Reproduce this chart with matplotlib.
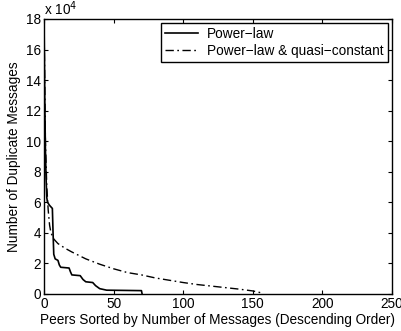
import matplotlib
matplotlib.use("Agg")
import matplotlib.pyplot as plt

# Data (y in units of 1e4 messages)
powerlaw_x = [0, 0.5, 1, 1.5, 2, 2.5, 4, 6, 6.5, 7, 8, 10, 11, 12, 18, 19, 20, 26, 28, 30, 35, 37, 40, 45, 70, 70.5]
powerlaw_y = [18, 13, 9.5, 7.5, 6.3, 6.0, 5.8, 5.6, 4.0, 2.6, 2.3, 2.2, 1.9, 1.75, 1.7, 1.45, 1.25, 1.2, 0.95, 0.8, 0.75, 0.55, 0.35, 0.25, 0.22, 0]

quasi_x = [0, 1, 2, 3, 4, 5, 7, 10, 15, 20, 30, 40, 50, 60, 70, 80, 90, 100, 110, 120, 130, 140, 150, 155, 157]
quasi_y = [18, 10, 7, 5.5, 4.5, 4.0, 3.6, 3.3, 3.0, 2.75, 2.3, 1.95, 1.65, 1.4, 1.25, 1.05, 0.9, 0.75, 0.62, 0.52, 0.42, 0.32, 0.2, 0.1, 0]

series_labels = ["Power\u2212law", "Power\u2212law & quasi\u2212constant"]
x_ticks = [0, 50, 100, 150, 200, 250]
y_ticks = [0, 2, 4, 6, 8, 10, 12, 14, 16, 18]

plt.rcParams['font.family'] = ['Liberation Sans', 'DejaVu Sans']
plt.rcParams['font.size'] = 9.8

fig = plt.figure(figsize=(4.02, 3.31), dpi=100)
ax = fig.add_axes([0.1095, 0.1118, 0.8655, 0.8308])

ax.plot(powerlaw_x, powerlaw_y, color='black', lw=1.2, linestyle='-', label=series_labels[0])
ax.plot(quasi_x, quasi_y, color='black', lw=1.0, linestyle=(0, (6, 2.5, 1.2, 2.5)), label=series_labels[1])

ax.set_xlim(0, 250)
ax.set_ylim(0, 18)
ax.set_xticks(x_ticks)
ax.set_yticks(y_ticks)
ax.tick_params(direction='in', top=True, right=True, length=3, width=0.8, labelsize=9.8, pad=2)
for s in ax.spines.values():
    s.set_linewidth(1.0)

ax.set_xlabel("Peers Sorted by Number of Messages (Descending Order)", fontsize=9.8, labelpad=1.5)
ax.set_ylabel("Number of Duplicate Messages", fontsize=9.8, labelpad=4)
ax.text(0.0, 1.005, "x 10$^4$", transform=ax.transAxes, fontsize=9.8, ha='left', va='bottom')

leg = ax.legend(loc='upper right', fontsize=9.8, frameon=True, fancybox=False,
                edgecolor='black', framealpha=1, borderaxespad=0.3, handlelength=2.4,
                borderpad=0.3, labelspacing=0.2, handletextpad=0.7)
leg.get_frame().set_linewidth(1.0)

fig.savefig("out.png", dpi=100)
